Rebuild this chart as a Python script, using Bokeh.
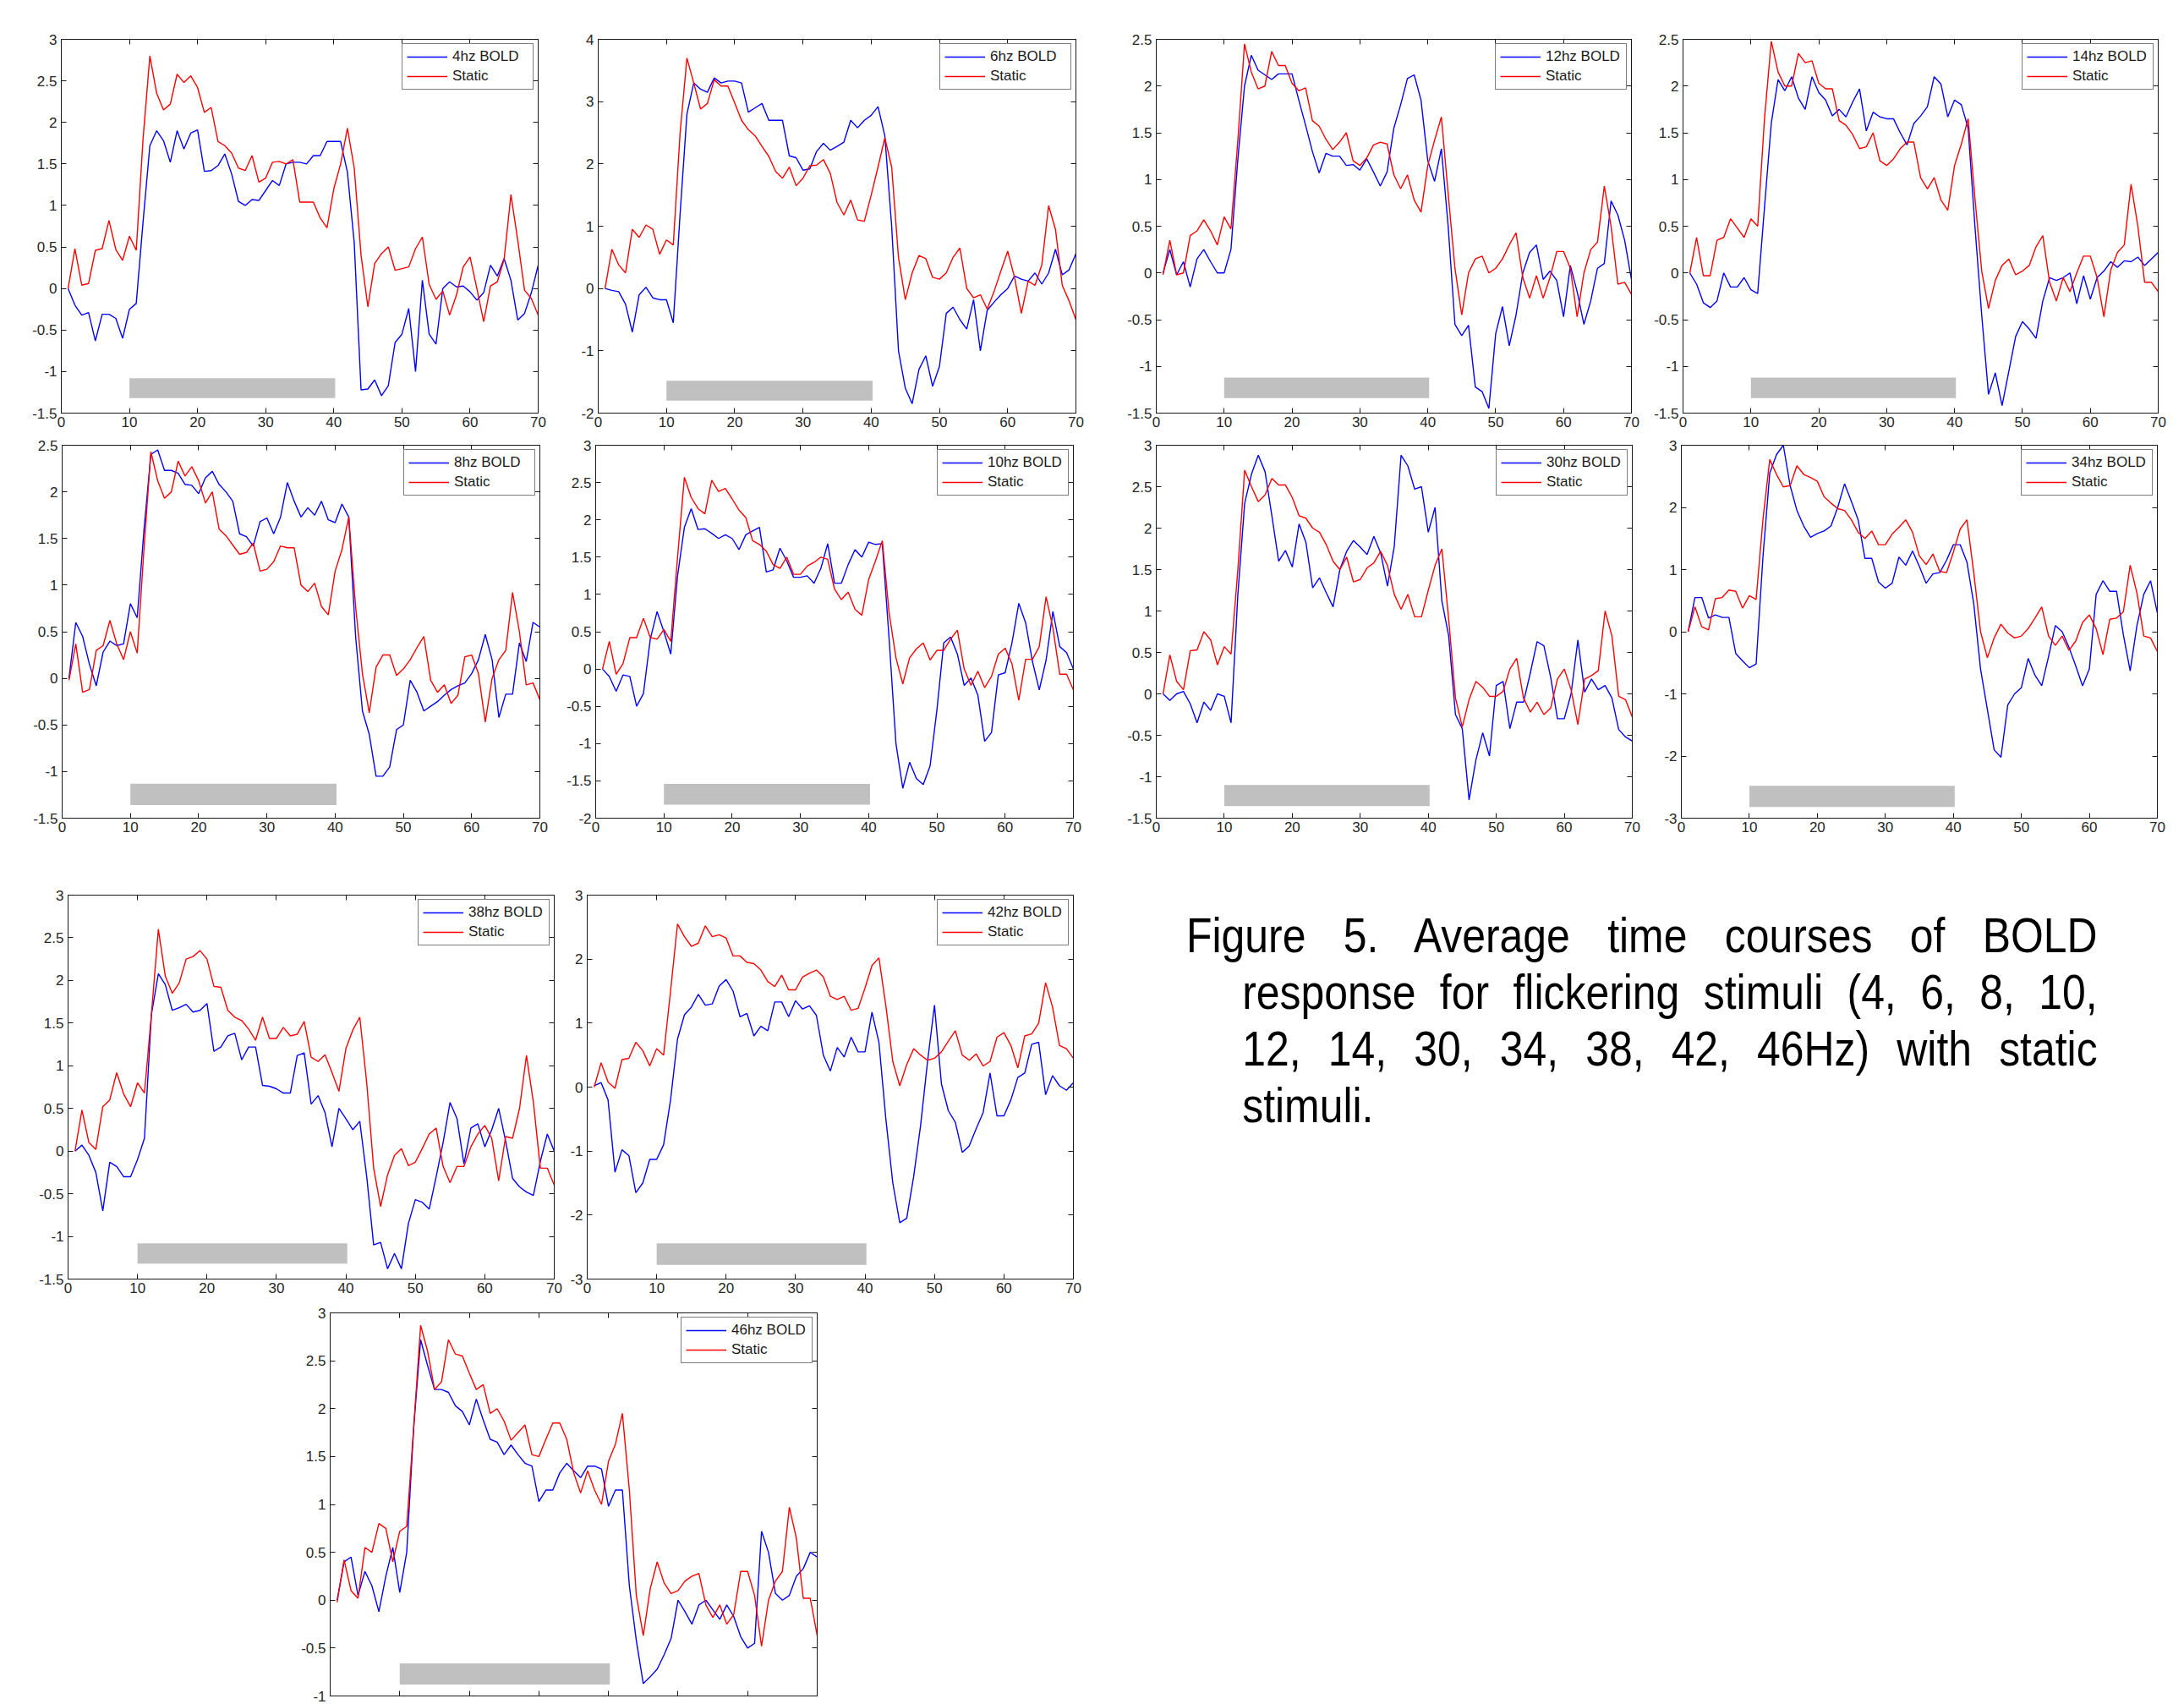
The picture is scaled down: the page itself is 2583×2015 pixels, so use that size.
from bokeh.plotting import figure
from bokeh.layouts import row, column
from bokeh.models import Range1d, FixedTicker, LinearAxis, CustomJSTickFormatter, Div, Spacer
from bokeh.embed import file_html
from bokeh.resources import INLINE

# ---------------- data ----------------
time_s = list(range(1, 71))
x_ticks = [0, 10, 20, 30, 40, 50, 60, 70]

bold_4hz = [0, -0.2, -0.32, -0.29, -0.63, -0.31, -0.31, -0.36, -0.6, -0.25,
            -0.18, 0.8, 1.72, 1.9, 1.78, 1.52, 1.9, 1.68, 1.87, 1.91,
            1.41, 1.42, 1.48, 1.62, 1.38, 1.05, 1.0, 1.07, 1.06, 1.18,
            1.3, 1.24, 1.5, 1.52, 1.52, 1.5, 1.6, 1.6, 1.77, 1.77,
            1.77, 1.4, 0.55, -1.22, -1.21, -1.1, -1.29, -1.17, -0.65, -0.55,
            -0.24, -1.0, 0.1, -0.55, -0.67, 0.0, 0.08, 0.02, 0.03, -0.04,
            -0.14, -0.05, 0.28, 0.15, 0.36, 0.1, -0.38, -0.3, -0.05, 0.28]
static_4hz = [0, 0.48, 0.04, 0.06, 0.46, 0.48, 0.82, 0.47, 0.34, 0.63,
              0.46, 1.8, 2.8, 2.35, 2.15, 2.22, 2.58, 2.48, 2.56, 2.42,
              2.12, 2.18, 1.77, 1.72, 1.63, 1.45, 1.42, 1.6, 1.28, 1.33,
              1.52, 1.53, 1.5, 1.55, 1.04, 1.04, 1.04, 0.85, 0.73, 1.2,
              1.5, 1.93, 1.45, 0.4, -0.22, 0.3, 0.42, 0.5, 0.22, 0.24,
              0.26, 0.48, 0.62, 0.05, -0.13, -0.03, -0.32, -0.08, 0.26, 0.38,
              0.0, -0.4, 0.03, 0.08, 0.35, 1.13, 0.58, -0.02, -0.12, -0.32]

bold_6hz = [0, -0.03, -0.05, -0.25, -0.7, -0.1, 0.02, -0.15, -0.18, -0.18,
            -0.55, 1.2, 2.8, 3.3, 3.2, 3.15, 3.38, 3.3, 3.33, 3.33,
            3.3, 2.83, 2.9, 2.97, 2.7, 2.7, 2.7, 2.13, 2.1, 1.9,
            1.92, 2.2, 2.33, 2.22, 2.28, 2.35, 2.7, 2.58, 2.7, 2.78,
            2.92, 2.45, 1.0, -1.0, -1.6, -1.85, -1.3, -1.08, -1.57, -1.25,
            -0.4, -0.3, -0.5, -0.65, -0.18, -1.0, -0.35, -0.22, -0.1, 0.0,
            0.2, 0.15, 0.12, 0.25, 0.07, 0.25, 0.63, 0.22, 0.3, 0.56]
static_6hz = [0, 0.63, 0.38, 0.25, 0.95, 0.82, 1.02, 0.95, 0.55, 0.78,
              0.7, 2.5, 3.7, 3.3, 2.88, 2.97, 3.35, 3.25, 3.25, 2.98,
              2.7, 2.55, 2.45, 2.28, 2.12, 1.88, 1.77, 1.95, 1.65, 1.77,
              1.97, 1.98, 2.07, 1.85, 1.38, 1.18, 1.42, 1.1, 1.08, 1.5,
              1.95, 2.42, 1.95, 0.5, -0.18, 0.25, 0.53, 0.48, 0.18, 0.15,
              0.25, 0.5, 0.65, 0.0, -0.15, -0.1, -0.33, -0.05, 0.28, 0.6,
              0.18, -0.4, 0.12, 0.05, 0.38, 1.33, 0.95, 0.05, -0.2, -0.5]

bold_12hz = [0.0, 0.25, -0.02, 0.12, -0.15, 0.15, 0.25, 0.12, 0.0, 0.0,
             0.25, 1.2, 2.0, 2.33, 2.17, 2.12, 2.07, 2.13, 2.13, 2.13,
             1.85, 1.58, 1.3, 1.07, 1.28, 1.25, 1.25, 1.15, 1.16, 1.1,
             1.22, 1.08, 0.93, 1.08, 1.55, 1.8, 2.08, 2.12, 1.85, 1.2,
             0.98, 1.33, 0.5, -0.55, -0.67, -0.56, -1.22, -1.27, -1.45, -0.65,
             -0.36, -0.78, -0.45, 0.0, 0.22, 0.3, -0.07, 0.02, -0.08, -0.47,
             0.08, -0.2, -0.55, -0.3, 0.05, 0.1, 0.77, 0.62, 0.35, -0.07]
static_12hz = [-0.02, 0.35, -0.02, 0.0, 0.4, 0.45, 0.57, 0.45, 0.3, 0.6,
               0.47, 1.4, 2.45, 2.15, 1.97, 2.0, 2.37, 2.22, 2.22, 2.03,
               1.95, 1.98, 1.63, 1.57, 1.43, 1.32, 1.4, 1.5, 1.2, 1.15,
               1.23, 1.37, 1.4, 1.38, 1.05, 0.9, 1.05, 0.78, 0.65, 1.15,
               1.42, 1.67, 0.85, 0.05, -0.45, 0.0, 0.15, 0.18, 0.0, 0.05,
               0.15, 0.3, 0.43, -0.05, -0.27, -0.03, -0.27, -0.05, 0.23, 0.23,
               0.05, -0.47, 0.0, 0.25, 0.33, 0.93, 0.5, -0.12, -0.1, -0.23]

bold_14hz = [0.0, -0.12, -0.32, -0.37, -0.3, 0.0, -0.15, -0.15, -0.05, -0.18,
             -0.22, 0.7, 1.6, 2.07, 1.95, 2.1, 1.87, 1.75, 2.1, 1.93,
             1.85, 1.68, 1.75, 1.67, 1.83, 1.97, 1.52, 1.72, 1.67, 1.65,
             1.65, 1.5, 1.37, 1.6, 1.68, 1.78, 2.1, 2.02, 1.67, 1.85,
             1.8, 1.55, 0.5, -0.45, -1.3, -1.07, -1.42, -1.05, -0.68, -0.52,
             -0.6, -0.7, -0.3, -0.05, -0.08, -0.05, 0.0, -0.33, -0.03, -0.28,
             -0.05, 0.02, 0.12, 0.06, 0.13, 0.12, 0.17, 0.08, 0.15, 0.22]
static_14hz = [0.0, 0.38, -0.03, -0.03, 0.35, 0.38, 0.58, 0.48, 0.38, 0.58,
               0.5, 1.65, 2.48, 2.15, 2.0, 2.0, 2.35, 2.25, 2.27, 2.03,
               1.97, 1.97, 1.63, 1.58, 1.48, 1.33, 1.35, 1.5, 1.2, 1.15,
               1.22, 1.33, 1.4, 1.4, 1.02, 0.9, 1.02, 0.78, 0.67, 1.15,
               1.38, 1.65, 0.8, 0.02, -0.38, -0.08, 0.08, 0.15, -0.02, 0.02,
               0.08, 0.28, 0.4, -0.1, -0.3, -0.05, -0.2, 0.0, 0.18, 0.18,
               -0.05, -0.47, 0.03, 0.22, 0.3, 0.95, 0.5, -0.1, -0.1, -0.2]

bold_8hz = [0.0, 0.6, 0.45, 0.15, -0.08, 0.28, 0.4, 0.35, 0.37, 0.8,
            0.65, 1.6, 2.4, 2.45, 2.23, 2.23, 2.2, 2.08, 2.07, 1.98,
            2.15, 2.22, 2.08, 2.0, 1.9, 1.55, 1.52, 1.42, 1.68, 1.72,
            1.55, 1.73, 2.1, 1.9, 1.73, 1.83, 1.75, 1.9, 1.7, 1.67,
            1.87, 1.73, 0.45, -0.35, -0.6, -1.05, -1.05, -0.95, -0.55, -0.5,
            -0.02, -0.15, -0.35, -0.3, -0.25, -0.18, -0.12, -0.08, -0.05, 0.05,
            0.2, 0.47, 0.2, -0.42, -0.17, -0.17, 0.38, 0.18, 0.6, 0.55]
static_8hz = [-0.02, 0.37, -0.15, -0.12, 0.3, 0.35, 0.62, 0.37, 0.2, 0.5,
              0.27, 1.4, 2.43, 2.12, 1.93, 2.0, 2.33, 2.17, 2.27, 2.12,
              1.88, 2.0, 1.6, 1.53, 1.43, 1.33, 1.35, 1.45, 1.15, 1.17,
              1.25, 1.42, 1.4, 1.4, 1.0, 0.93, 1.02, 0.77, 0.68, 1.15,
              1.38, 1.73, 0.77, 0.05, -0.37, 0.12, 0.25, 0.25, 0.03, 0.1,
              0.2, 0.33, 0.45, -0.02, -0.15, -0.07, -0.27, -0.18, 0.23, 0.25,
              0.05, -0.47, 0.0, 0.2, 0.3, 0.92, 0.5, -0.07, -0.05, -0.23]

bold_10hz = [0.0, -0.1, -0.3, -0.08, -0.1, -0.5, -0.33, 0.4, 0.77, 0.5,
             0.2, 1.25, 1.9, 2.15, 1.87, 1.88, 1.82, 1.75, 1.8, 1.75,
             1.6, 1.8, 1.85, 1.9, 1.3, 1.33, 1.62, 1.45, 1.23, 1.23,
             1.25, 1.15, 1.35, 1.68, 1.15, 1.15, 1.4, 1.6, 1.5, 1.7,
             1.67, 1.68, 0.4, -1.0, -1.6, -1.25, -1.47, -1.55, -1.3, -0.55,
             0.35, 0.43, 0.2, -0.22, -0.12, -0.35, -0.97, -0.85, -0.08, -0.05,
             0.35, 0.88, 0.62, 0.1, -0.28, 0.12, 0.77, 0.3, 0.22, 0.0]
static_10hz = [0.0, 0.37, -0.07, 0.07, 0.42, 0.42, 0.68, 0.42, 0.4, 0.53,
               0.37, 1.5, 2.57, 2.3, 2.15, 2.08, 2.53, 2.38, 2.42, 2.28,
               2.13, 2.03, 1.72, 1.67, 1.58, 1.4, 1.35, 1.5, 1.27, 1.27,
               1.38, 1.43, 1.5, 1.47, 1.07, 0.93, 1.03, 0.8, 0.72, 1.2,
               1.45, 1.72, 0.75, 0.15, -0.2, 0.15, 0.27, 0.35, 0.12, 0.25,
               0.25, 0.4, 0.52, 0.0, -0.22, -0.03, -0.25, -0.1, 0.2, 0.28,
               0.07, -0.42, 0.13, 0.13, 0.3, 0.97, 0.55, -0.07, -0.07, -0.28]

bold_30hz = [0.0, -0.08, 0.0, 0.03, -0.12, -0.35, -0.1, -0.2, 0.0, -0.03,
             -0.35, 1.2, 2.3, 2.65, 2.88, 2.68, 2.15, 1.6, 1.73, 1.53,
             2.05, 1.83, 1.28, 1.4, 1.22, 1.05, 1.5, 1.72, 1.85, 1.77,
             1.68, 1.9, 1.7, 1.3, 1.78, 2.88, 2.75, 2.47, 2.5, 1.95,
             2.25, 1.12, 0.7, -0.25, -0.42, -1.28, -0.8, -0.47, -0.75, 0.1,
             0.15, -0.42, -0.1, -0.1, 0.25, 0.63, 0.58, 0.2, -0.3, -0.3,
             0.0, 0.65, 0.02, 0.18, 0.05, 0.1, -0.05, -0.43, -0.52, -0.57]
static_30hz = [0.0, 0.47, 0.15, 0.05, 0.52, 0.53, 0.75, 0.65, 0.35, 0.57,
               0.48, 1.5, 2.7, 2.5, 2.32, 2.4, 2.6, 2.52, 2.52, 2.37,
               2.15, 2.12, 2.0, 1.95, 1.8, 1.6, 1.5, 1.65, 1.35, 1.38,
               1.52, 1.58, 1.72, 1.55, 1.2, 1.02, 1.2, 0.93, 0.93, 1.25,
               1.55, 1.75, 0.9, -0.05, -0.4, -0.07, 0.15, 0.08, -0.03, -0.03,
               0.03, 0.3, 0.43, -0.05, -0.22, -0.1, -0.25, -0.17, 0.18, 0.3,
               0.05, -0.37, 0.18, 0.22, 0.28, 1.0, 0.7, -0.03, -0.07, -0.28]

bold_34hz = [0.0, 0.55, 0.55, 0.22, 0.27, 0.23, 0.23, -0.35, -0.47, -0.58,
             -0.52, 1.2, 2.55, 2.85, 3.0, 2.35, 1.95, 1.7, 1.52, 1.58,
             1.62, 1.7, 2.0, 2.38, 2.1, 1.8, 1.18, 1.18, 0.8, 0.7,
             0.78, 1.2, 1.07, 1.3, 1.05, 0.78, 0.93, 0.95, 1.15, 1.4,
             1.4, 1.12, 0.45, -0.6, -1.25, -1.9, -2.02, -1.18, -1.0, -0.9,
             -0.43, -0.7, -0.87, -0.4, 0.1, 0.0, -0.25, -0.55, -0.87, -0.6,
             0.6, 0.82, 0.65, 0.65, -0.05, -0.63, 0.1, 0.6, 0.82, 0.3]
static_34hz = [0.0, 0.4, 0.08, 0.03, 0.53, 0.55, 0.67, 0.65, 0.38, 0.58,
               0.52, 1.8, 2.77, 2.53, 2.33, 2.35, 2.67, 2.53, 2.48, 2.42,
               2.17, 2.07, 1.98, 1.95, 1.8, 1.6, 1.5, 1.62, 1.4, 1.4,
               1.57, 1.68, 1.8, 1.6, 1.22, 1.08, 1.25, 0.97, 0.95, 1.28,
               1.65, 1.8, 0.95, 0.0, -0.42, -0.1, 0.12, -0.02, -0.1, -0.07,
               0.05, 0.22, 0.4, -0.07, -0.22, -0.07, -0.3, -0.15, 0.15, 0.27,
               0.05, -0.37, 0.2, 0.22, 0.32, 1.07, 0.62, -0.07, -0.1, -0.32]

bold_38hz = [0.0, 0.07, -0.05, -0.25, -0.7, -0.13, -0.18, -0.3, -0.3, -0.1,
             0.15, 1.6, 2.08, 1.95, 1.65, 1.68, 1.72, 1.63, 1.65, 1.73,
             1.17, 1.22, 1.35, 1.38, 1.07, 1.22, 1.22, 0.77, 0.76, 0.73,
             0.68, 0.68, 1.12, 1.15, 0.55, 0.65, 0.45, 0.05, 0.5, 0.38,
             0.25, 0.35, -0.3, -1.1, -1.07, -1.38, -1.2, -1.38, -0.85, -0.57,
             -0.6, -0.68, -0.3, 0.1, 0.57, 0.38, -0.15, 0.27, 0.32, 0.05,
             0.25, 0.5, 0.12, -0.32, -0.42, -0.48, -0.52, -0.12, 0.2, 0.0]
static_38hz = [0.0, 0.48, 0.1, 0.02, 0.52, 0.6, 0.92, 0.67, 0.52, 0.8,
               0.68, 1.6, 2.6, 2.05, 1.85, 1.97, 2.25, 2.28, 2.35, 2.25,
               1.93, 1.92, 1.65, 1.57, 1.53, 1.43, 1.3, 1.57, 1.32, 1.32,
               1.45, 1.35, 1.37, 1.52, 1.1, 1.05, 1.13, 0.92, 0.7, 1.2,
               1.42, 1.57, 0.8, -0.2, -0.65, -0.28, -0.05, 0.03, -0.17, -0.13,
               0.03, 0.2, 0.27, -0.18, -0.37, -0.18, -0.18, 0.05, 0.2, 0.3,
               0.15, -0.35, 0.17, 0.15, 0.5, 1.12, 0.57, -0.2, -0.2, -0.4]

bold_42hz = [0.02, 0.07, -0.2, -1.33, -0.98, -1.07, -1.65, -1.5, -1.13, -1.13,
             -0.9, -0.2, 0.75, 1.13, 1.25, 1.45, 1.28, 1.3, 1.58, 1.68,
             1.5, 1.1, 1.15, 0.8, 0.95, 0.88, 1.33, 1.33, 1.1, 1.35,
             1.22, 1.27, 1.12, 0.5, 0.25, 0.62, 0.47, 0.78, 0.55, 0.55,
             1.17, 0.7, -0.5, -1.5, -2.12, -2.05, -1.4, -0.6, 0.4, 1.28,
             0.05, -0.37, -0.55, -1.02, -0.92, -0.65, -0.4, 0.22, -0.45, -0.45,
             -0.2, 0.15, 0.22, 0.67, 0.7, -0.12, 0.18, 0.02, -0.05, 0.07]
static_42hz = [0.0, 0.38, 0.08, -0.02, 0.43, 0.45, 0.7, 0.57, 0.33, 0.6,
               0.5, 1.5, 2.55, 2.35, 2.2, 2.25, 2.52, 2.35, 2.38, 2.33,
               2.05, 2.05, 1.95, 1.93, 1.83, 1.65, 1.57, 1.75, 1.52, 1.52,
               1.72, 1.78, 1.83, 1.72, 1.42, 1.37, 1.42, 1.2, 1.23, 1.55,
               1.9, 2.02, 1.27, 0.4, 0.02, 0.35, 0.6, 0.5, 0.42, 0.45,
               0.55, 0.72, 0.88, 0.5, 0.42, 0.52, 0.33, 0.4, 0.78, 0.85,
               0.65, 0.3, 0.8, 0.83, 1.0, 1.63, 1.25, 0.65, 0.6, 0.45]

bold_46hz = [0.0, 0.4, 0.45, 0.05, 0.3, 0.15, -0.12, 0.25, 0.55, 0.08,
             0.5, 1.8, 2.72, 2.45, 2.2, 2.2, 2.17, 2.03, 1.97, 1.83,
             2.1, 1.88, 1.68, 1.65, 1.52, 1.62, 1.52, 1.43, 1.4, 1.03,
             1.15, 1.15, 1.33, 1.43, 1.35, 1.28, 1.4, 1.4, 1.37, 0.98,
             1.15, 1.15, 0.15, -0.42, -0.87, -0.8, -0.72, -0.57, -0.4, 0.0,
             -0.12, -0.25, -0.05, 0.0, -0.1, -0.2, -0.05, -0.17, -0.38, -0.5,
             -0.45, 0.72, 0.5, 0.07, 0.0, 0.05, 0.25, 0.33, 0.5, 0.45]
static_46hz = [-0.02, 0.42, 0.1, 0.02, 0.55, 0.5, 0.8, 0.75, 0.4, 0.72,
               0.77, 1.8, 2.87, 2.6, 2.2, 2.28, 2.72, 2.57, 2.55, 2.37,
               2.2, 2.25, 1.95, 2.0, 1.87, 1.67, 1.75, 1.83, 1.52, 1.5,
               1.68, 1.85, 1.85, 1.68, 1.33, 1.12, 1.35, 1.15, 1.0, 1.45,
               1.63, 1.95, 1.15, 0.05, -0.37, 0.12, 0.4, 0.18, 0.07, 0.1,
               0.2, 0.25, 0.28, -0.05, -0.18, -0.05, -0.25, -0.15, 0.3, 0.3,
               0.05, -0.48, 0.0, 0.2, 0.3, 0.97, 0.65, 0.02, 0.02, -0.37]

# panel order: row1 4,6,12,14 | row2 8,10,30,34 | row3 38,42 | row4 46
panel_labels = ["4hz BOLD", "6hz BOLD", "12hz BOLD", "14hz BOLD",
                "8hz BOLD", "10hz BOLD", "30hz BOLD", "34hz BOLD",
                "38hz BOLD", "42hz BOLD", "46hz BOLD"]
bold_series = [bold_4hz, bold_6hz, bold_12hz, bold_14hz,
               bold_8hz, bold_10hz, bold_30hz, bold_34hz,
               bold_38hz, bold_42hz, bold_46hz]
static_series = [static_4hz, static_6hz, static_12hz, static_14hz,
                 static_8hz, static_10hz, static_30hz, static_34hz,
                 static_38hz, static_42hz, static_46hz]
static_label = "Static"
y_min = [-1.5, -2, -1.5, -1.5, -1.5, -2, -1.5, -3, -1.5, -3, -1]
y_max = [3, 4, 2.5, 2.5, 2.5, 3, 3, 3, 3, 3, 3]
y_step = [0.5, 1, 0.5, 0.5, 0.5, 0.5, 0.5, 1, 0.5, 1, 0.5]
stim_onset = 10
stim_offset = 40.2
stim_bar_bottom = [-1.32, -1.80, -1.34, -1.34, -1.36, -1.82, -1.355, -2.82, -1.32, -2.78, -0.88]
stim_bar_top = [-1.08, -1.48, -1.12, -1.12, -1.13, -1.54, -1.10, -2.48, -1.08, -2.44, -0.66]

caption_lines = ["Figure 5. Average time courses of BOLD",
                 "response for flickering stimuli (4, 6, 8, 10,",
                 "12, 14, 30, 34, 38, 42, 46Hz) with static",
                 "stimuli."]

# ---------------- layout / style ----------------
# (width, height, border_left, border_right, border_top, border_bottom)
GEOM = [
    (662, 506, 64, 34, 36, 26), (648, 506, 37, 46, 38, 23),
    (632, 506, 49, 21, 38, 26), (623, 506, 40, 21, 38, 26),
    (658, 488, 65, 28, 10, 34), (652, 488, 38, 49, 10, 34),
    (632, 488, 49, 20, 12, 34), (623, 488, 38, 22, 11, 35),
    (660, 538, 72, 13, 56, 28), (632, 538, 26, 31, 56, 28),
    (656, 474, 50, 30, 12, 9),
]
TICK_FONT = "Liberation Sans"
FRAME_COLOR = "#1a1a1a"


def make_panel(i, show_xlabels=True):
    w, h, bl, br, bt, bb = GEOM[i]
    p = figure(width=w, height=h, x_range=Range1d(0, 70),
               y_range=Range1d(y_min[i], y_max[i]),
               x_axis_type=None, y_axis_type=None,
               toolbar_location=None, output_backend="svg",
               min_border_left=bl, min_border_right=br,
               min_border_top=bt, min_border_bottom=bb)
    p.outline_line_color = FRAME_COLOR
    p.outline_line_width = 1
    p.background_fill_color = "white"
    p.border_fill_color = "white"

    n = int(round((y_max[i] - y_min[i]) / y_step[i]))
    yt = [round(y_min[i] + k * y_step[i], 3) for k in range(n + 1)]

    label_fmt = CustomJSTickFormatter(code="return String(Math.round(tick*100)/100);")
    specs = [("below", x_ticks, show_xlabels, 4),
             ("left", yt, True, 5),
             ("above", x_ticks, False, 0),
             ("right", yt, False, 0)]
    for loc, ticks, labels, standoff in specs:
        fmt = label_fmt if labels else CustomJSTickFormatter(code="return '';")
        ax = LinearAxis(ticker=FixedTicker(ticks=ticks), formatter=fmt)
        ax.major_tick_in = 6
        ax.major_tick_out = 0
        ax.minor_tick_line_color = None
        ax.axis_line_color = FRAME_COLOR
        ax.major_tick_line_color = FRAME_COLOR
        ax.major_label_text_font = TICK_FONT
        ax.major_label_text_font_size = "17px"
        ax.major_label_text_color = "#262626"
        ax.major_label_standoff = standoff
        p.add_layout(ax, loc)

    p.quad(left=[stim_onset], right=[stim_offset],
           bottom=[stim_bar_bottom[i]], top=[stim_bar_top[i]],
           fill_color="#c0c0c0", line_color=None)
    p.line(time_s, bold_series[i], line_color="#0000ff", line_width=1.4,
           legend_label=panel_labels[i])
    p.line(time_s, static_series[i], line_color="#ff0000", line_width=1.4,
           legend_label=static_label)

    lg = p.legend[0]
    lg.location = "top_right"
    lg.margin = 5
    lg.padding = 5
    lg.spacing = 3
    lg.border_line_color = "black"
    lg.border_line_width = 1
    lg.background_fill_color = "white"
    lg.background_fill_alpha = 1
    lg.label_text_font = TICK_FONT
    lg.label_text_font_size = "17px"
    lg.label_text_color = "#1a1a1a"
    lg.glyph_width = 48
    lg.glyph_height = 20
    lg.label_height = 20
    lg.label_width = 90
    lg.label_standoff = 6
    return p


panels = [make_panel(i, show_xlabels=(i != 10)) for i in range(11)]

# caption: justified, horizontally condensed Helvetica-like text
SQUEEZE = 0.86
CAP_W = 1078
CAP_FONT = 58
CAP_LINE = 67
inner_w = int(round(CAP_W / SQUEEZE))
indent = int(round(66 / SQUEEZE))
jl = "display:block;text-align:justify;text-align-last:justify;"
caption_html = (
    f'<div style="width:{CAP_W}px;'
    f"font-family:'Liberation Sans',Arial,sans-serif;font-size:{CAP_FONT}px;"
    f'line-height:{CAP_LINE}px;color:#000;">'
    f'<div style="width:{inner_w}px;transform:scaleX({SQUEEZE});transform-origin:0 0;">'
    f'<div style="{jl}">{caption_lines[0]}</div>'
    f'<div style="{jl}padding-left:{indent}px;">{caption_lines[1]}</div>'
    f'<div style="{jl}padding-left:{indent}px;">{caption_lines[2]}</div>'
    f'<div style="display:block;text-align:left;padding-left:{indent}px;">{caption_lines[3]}</div>'
    '</div></div>'
)
caption = Div(text=caption_html, width=CAP_W, height=290, margin=(0, 0, 0, 0))

row1 = row(panels[0], panels[1], panels[2], panels[3])
row2 = row(panels[4], panels[5], panels[6], panels[7])
row3 = row(panels[8], panels[9], Spacer(width=103, height=1),
           column(Spacer(width=CAP_W, height=70), caption))
row4 = row(Spacer(width=332, height=1), panels[10])
inner = column(row1, row2, row3, row4)
# 8px page margin (the Bokeh page template itself has none)
layout = column(Spacer(width=10, height=8), row(Spacer(width=8, height=10), inner))

open("out.html", "w").write(file_html(layout, INLINE, title="Figure 5"))
